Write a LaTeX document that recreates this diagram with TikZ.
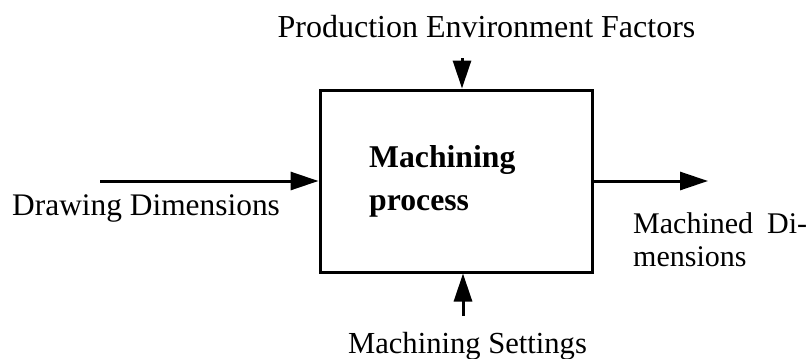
\documentclass[tikz,border=0pt]{standalone}
\usepackage{fontspec}
\setmainfont{Liberation Serif}
\usetikzlibrary{arrows.meta}
\tikzset{
  lbl/.style={inner sep=0pt, font=\fontsize{#1}{34}\selectfont},
  lbl/.default=31,
  boldlbl/.style={inner sep=0pt, font=\fontsize{31.7}{34}\selectfont\bfseries},
  flow/.style={line width=3pt, -{Triangle[length=28pt,width=18pt]}},
  procbox/.style={draw, line width=3pt, minimum width=272pt, minimum height=182pt, inner sep=0pt}
}
\begin{document}
\begin{tikzpicture}[x=1pt,y=-1pt]
  \useasboundingbox (0,0) rectangle (812,359);
  % the process block
  \node[procbox] (proc) at (456,181) {};
  \node[boldlbl, anchor=base west] (t1) at (369,167) {Machining};
  \node[boldlbl, anchor=base west] (t2) at (369,210) {process};
  % labels
  \node[lbl=32, anchor=base] (env) at (486.5,37) {Production Environment Factors};
  \node[lbl=31.4, anchor=base west] (draw) at (12,215) {Drawing Dimensions};
  \node[lbl=30, anchor=base west] (out1) at (633,233) {Machined\hskip 14pt Di-};
  \node[lbl=30, anchor=base west] (out2) at (633,266) {mensions};
  \node[lbl=30.6, anchor=base] (set) at (467.5,353) {Machining Settings};
  % arrow ends
  \coordinate (inL) at (100,181);
  \coordinate (outR) at (708,181);
  \coordinate (inT) at (462,58);
  \coordinate (inB) at (463,316);
  % connectors
  \draw[flow] (inL) -- (proc.west);
  \draw[flow] (proc.east) -- (outR);
  \draw[flow] (inT) -- (inT |- proc.north);
  \draw[flow] (inB) -- (inB |- proc.south);
\end{tikzpicture}
\end{document}
